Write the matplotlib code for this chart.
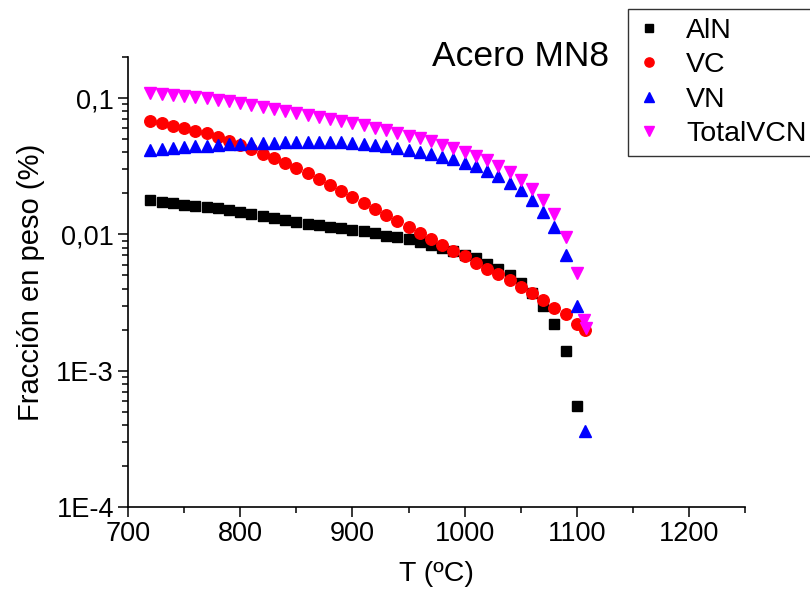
#!/usr/bin/env python

import numpy as np
import matplotlib
matplotlib.use("Agg")
import matplotlib.pyplot as plt
from matplotlib.ticker import FixedLocator, FixedFormatter, LogLocator, NullFormatter, MultipleLocator


# ------------------------------------------
# data (weight fraction, %)
# ------------------------------------------
T = list(range(720, 1101, 10))

aln = [0.0179, 0.0174, 0.0169, 0.0164, 0.0161, 0.0159, 0.0155, 0.0151, 0.0147, 0.0141,
       0.0136, 0.0132, 0.0127, 0.0124, 0.0120, 0.0117, 0.0114, 0.0111, 0.0108, 0.0105,
       0.0102, 0.0098, 0.0095, 0.0092, 0.0088, 0.0083, 0.0080, 0.0076, 0.0071, 0.0067,
       0.0061, 0.0056, 0.0050, 0.0044, 0.0037, 0.0030, 0.0022, 0.0014, 0.00055]

t_vc = T + [1107]
vc = [0.0682, 0.0659, 0.0624, 0.0600, 0.0573, 0.0551, 0.0518, 0.0487, 0.0455, 0.0420,
      0.0388, 0.0361, 0.0332, 0.0305, 0.0281, 0.0255, 0.0230, 0.0209, 0.0189, 0.0171,
      0.0153, 0.0139, 0.0126, 0.0114, 0.0103, 0.0093, 0.0084, 0.0076, 0.0069, 0.0062,
      0.0056, 0.0051, 0.0046, 0.0041, 0.0037, 0.0033, 0.0029, 0.0026, 0.0022, 0.0020]

t_vn = T + [1107]
vn = [0.0413, 0.0420, 0.0427, 0.0434, 0.0441, 0.0447, 0.0452, 0.0457, 0.0461, 0.0465,
      0.0468, 0.0471, 0.0473, 0.0474, 0.0475, 0.0475, 0.0474, 0.0472, 0.0469, 0.0462,
      0.0453, 0.0442, 0.0430, 0.0417, 0.0404, 0.0389, 0.0372, 0.0355, 0.0336, 0.0315,
      0.0293, 0.0267, 0.0240, 0.0210, 0.0179, 0.0145, 0.0113, 0.0070, 0.0030, 0.00036]

t_total = T + [1106, 1108]
total = [0.1086, 0.1079, 0.1050, 0.1034, 0.1014, 0.0998, 0.0972, 0.0947, 0.0913, 0.0885,
         0.0856, 0.0832, 0.0805, 0.0779, 0.0756, 0.0730, 0.0704, 0.0681, 0.0658, 0.0633,
         0.0606, 0.0581, 0.0554, 0.0531, 0.0507, 0.0482, 0.0456, 0.0431, 0.0405, 0.0377,
         0.0349, 0.0318, 0.0286, 0.0251, 0.0216, 0.0178, 0.0142, 0.0096, 0.0052, 0.00235,
         0.00205]

ytick_vals = [1e-4, 1e-3, 1e-2, 1e-1]
ytick_labels = ["1E-4", "1E-3", "0,01", "0,1"]

plt.rcParams['font.family'] = ['Liberation Sans', 'DejaVu Sans']

fig = plt.figure(figsize=(8.1, 5.98), dpi=100)
ax = fig.add_axes([0.158, 0.1522, 0.762, 0.7525])

ax.plot(T, aln, 's', color='black', ms=6.8, mec='black', label='AlN')
ax.plot(t_vc, vc, 'o', color='red', ms=8.3, mec='red', label='VC')
ax.plot(t_vn, vn, '^', color='blue', ms=9, mec='blue', label='VN')
ax.plot(t_total, total, 'v', color='magenta', ms=9, mec='magenta', label='TotalVCN')

ax.set_yscale('log')
ax.set_xlim(700, 1250)
ax.set_ylim(1e-4, 0.2)

ax.xaxis.set_major_locator(MultipleLocator(100))
ax.xaxis.set_minor_locator(MultipleLocator(50))
ax.yaxis.set_major_locator(FixedLocator(ytick_vals))
ax.yaxis.set_major_formatter(FixedFormatter(ytick_labels))
ax.yaxis.set_minor_locator(LogLocator(base=10, subs=np.arange(2, 10)))
ax.yaxis.set_minor_formatter(NullFormatter())

ax.tick_params(which='major', direction='out', length=7, width=1.1, labelsize=19.5, pad=3)
ax.tick_params(which='minor', direction='out', length=4, width=1.1)

for side in ['top', 'right']:
    ax.spines[side].set_visible(False)
for side in ['left', 'bottom']:
    ax.spines[side].set_linewidth(1.2)

ax.set_xlabel("T (ºC)", fontsize=20.5, labelpad=10)
ax.set_ylabel("Fracción en peso (%)", fontsize=21, labelpad=8)

fig.text(432/810, 1 - 66/598, "Acero MN8", fontsize=25.5, ha='left', va='baseline')

# legend box runs off the right edge like in the original
leg = ax.legend(loc='upper left', bbox_to_anchor=(628/810, 1 - 9/598),
                bbox_transform=fig.transFigure, fontsize=20.5, frameon=True,
                fancybox=False, edgecolor='black', borderaxespad=0, borderpad=0.3,
                handlelength=0.9, handletextpad=0.85, labelspacing=0.3, markerscale=0.8)
leg.get_frame().set_linewidth(1.0)

plt.savefig("out.png", dpi=100)
plt.close()
